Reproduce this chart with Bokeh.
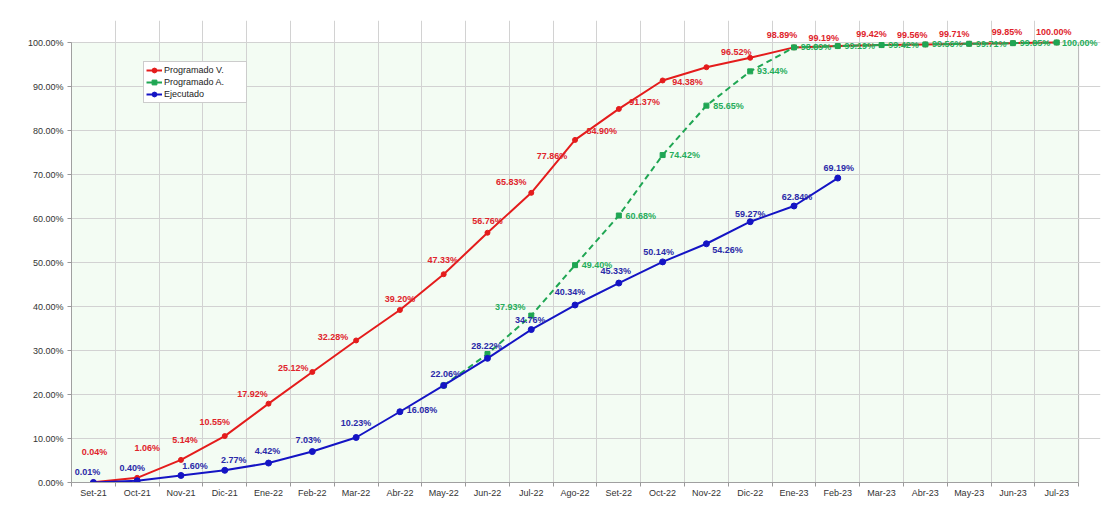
from bokeh.plotting import figure
from bokeh.models import ColumnDataSource, LabelSet, FixedTicker, Legend, LegendItem, Range1d
from bokeh.core.properties import value
from bokeh.embed import file_html
from bokeh.resources import INLINE

months = ["Set-21", "Oct-21", "Nov-21", "Dic-21", "Ene-22", "Feb-22", "Mar-22", "Abr-22",
          "May-22", "Jun-22", "Jul-22", "Ago-22", "Set-22", "Oct-22", "Nov-22", "Dic-22",
          "Ene-23", "Feb-23", "Mar-23", "Abr-23", "May-23", "Jun-23", "Jul-23"]

prog_v = [0.04, 1.06, 5.14, 10.55, 17.92, 25.12, 32.28, 39.20, 47.33, 56.76, 65.83, 77.86,
          84.90, 91.37, 94.38, 96.52, 98.89, 99.19, 99.42, 99.56, 99.71, 99.85, 100.00]

# Programado A. starts at May-22
prog_a_start = 8
prog_a = [22.06, 29.20, 37.93, 49.40, 60.68, 74.42, 85.65, 93.44, 98.89, 99.19, 99.42,
          99.56, 99.71, 99.85, 100.00]
prog_a_first_label = 2  # labels shown from Jul-22

ejecutado = [0.01, 0.40, 1.60, 2.77, 4.42, 7.03, 10.23, 16.08, 22.06, 28.22, 34.76, 40.34,
             45.33, 50.14, 54.26, 59.27, 62.84, 69.19]

y_ticks = [0, 10, 20, 30, 40, 50, 60, 70, 80, 90, 100]

# label placement (screen px offsets, style only)
red_dx = [1, 10, 4, -10, -16, -19, -23, 0, -1, 0, -20, -23, -17, -18, -19, -14, -12, -14, -10, -13, -15, -6, -3]
red_dy = [30, 30, 20, 14, 10, 4, 3, 11, 14, 12, 11, -16, -22, -22, -15, 6, 12, 8, 11, 9, 10, 11, 11]
green_dx = [-21, 22, 22, 22, 22, 22, 22, 22, 22, 22, 22, 22, 23]
green_dy = [9, 0, 0, 0, 0, 0, 0, 0, 0, 0, 0, 0, 0]
blue_dx = [-6, -5, 14, 9, -1, -4, 0, 22, 2, -1, -1, -5, -3, -4, 21, 0, 3, 1]
blue_dy = [10, 13, 9, 10, 12, 12, 14, 2, 11, 12, 10, 13, 12, 10, -6, 8, 9, 10]

RED = "#e41c1c"
RED_T = "#e0242c"
GREEN = "#1fa653"
GREEN_T = "#26ad5a"
BLUE = "#1414c4"
BLUE_T = "#2a2aa8"
FONT = "Liberation Sans"

n = len(months)
xs = list(range(n))
X0, X1 = -0.5, n - 0.5

p = figure(width=1101, height=521, output_backend="svg", toolbar_location=None,
           x_range=Range1d(X0, 23.0), y_range=Range1d(0, 105),
           min_border_left=71, min_border_right=1, min_border_top=20, min_border_bottom=39)
p.background_fill_color = "white"
p.border_fill_color = "white"
p.outline_line_color = None

# plot-area background and border
p.quad(left=[X0], right=[X1], bottom=[0], top=[100], fill_color="#f3fcf3",
       line_color="#b4b4b4", line_width=1, level="underlay")

# axes
p.xaxis.ticker = FixedTicker(ticks=xs, minor_ticks=[i - 0.5 for i in range(n + 1)])
p.xaxis.major_label_overrides = {i: m for i, m in enumerate(months)}
p.xaxis.bounds = (X0, X1)
p.xaxis.major_tick_out = 0
p.xaxis.major_tick_in = 0
p.xaxis.minor_tick_out = 4
p.xaxis.minor_tick_in = 0
p.xaxis.minor_tick_line_color = "#999999"
p.xaxis.major_label_standoff = 1
p.yaxis.ticker = FixedTicker(ticks=y_ticks)
p.yaxis.major_label_overrides = {t: f"{t:.2f}%" for t in y_ticks}
p.yaxis.bounds = (0, 100)
p.yaxis.major_tick_out = 4
p.yaxis.major_tick_in = 0
p.yaxis.minor_tick_line_color = None
p.yaxis.major_label_standoff = 4
for ax in (p.xaxis, p.yaxis):
    ax.axis_line_color = "#a0a0a0"
    ax.major_tick_line_color = "#999999"
    ax.major_label_text_font = FONT
    ax.major_label_text_font_size = "9px"
    ax.major_label_text_color = "#333333"

p.xgrid.ticker = FixedTicker(ticks=[i - 0.5 for i in range(1, n)])
p.xgrid.bounds = (0, 100)
p.ygrid.bounds = (X0, X1)
p.xgrid.grid_line_color = "#d2d2d2"
p.ygrid.grid_line_color = "#d2d2d2"

# series
a_x = xs[prog_a_start:prog_a_start + len(prog_a)]
e_x = xs[:len(ejecutado)]

lv = p.line(xs, prog_v, line_color=RED, line_width=2)
mv = p.scatter(xs, prog_v, marker="circle", size=5, fill_color=RED, line_color=RED)
la = p.line(a_x, prog_a, line_color=GREEN, line_width=2, line_dash="6 4")
ma = p.scatter(a_x, prog_a, marker="square", size=5, fill_color=GREEN, line_color=GREEN)
le = p.line(e_x, ejecutado, line_color=BLUE, line_width=2)
me = p.scatter(e_x, ejecutado, marker="circle", size=6, fill_color=BLUE, line_color=BLUE)

def add_labels(x, y, dx, dy, color):
    src = ColumnDataSource(dict(x=x, y=y, t=[f"{v:.2f}%" for v in y], dx=dx, dy=dy))
    ls = LabelSet(x="x", y="y", text="t", source=src, x_offset="dx", y_offset="dy",
                  text_align="center", text_baseline="middle", text_font=value(FONT),
                  text_font_size="9px", text_font_style="bold", text_color=color)
    p.add_layout(ls)

add_labels(xs, prog_v, red_dx, red_dy, RED_T)
add_labels(a_x[prog_a_first_label:], prog_a[prog_a_first_label:], green_dx, green_dy, GREEN_T)
add_labels(e_x, ejecutado, blue_dx, blue_dy, BLUE_T)

legend = Legend(items=[
    LegendItem(label="Programado V.", renderers=[lv, mv]),
    LegendItem(label="Programado A.", renderers=[la, ma]),
    LegendItem(label="Ejecutado", renderers=[le, me]),
], location=(72, 379))
legend.label_text_font = FONT
legend.label_text_font_size = "9px"
legend.label_text_color = "#222222"
legend.glyph_width = 16
legend.glyph_height = 12
legend.label_height = 12
legend.label_width = 80
legend.label_standoff = 2
legend.spacing = 0
legend.padding = 2
legend.margin = 0
legend.border_line_color = "#9a9a9a"
legend.border_line_width = 1
legend.background_fill_color = "white"
legend.background_fill_alpha = 1
p.add_layout(legend)

open("out.html", "w").write(file_html(p, INLINE))
